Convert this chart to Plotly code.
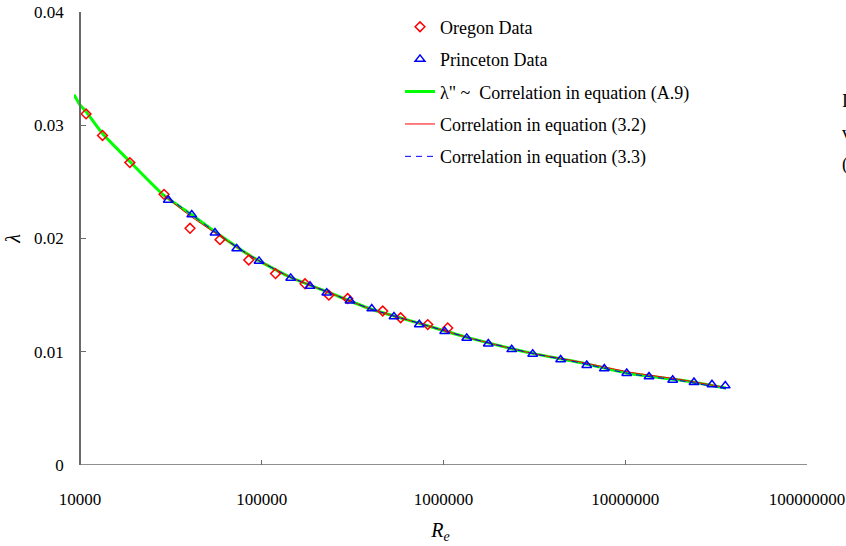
import plotly.graph_objects as go

# ---------------- data ----------------
oregon_re = [1.08e4, 1.33e4, 1.88e4, 2.9e4, 4.03e4, 5.89e4, 8.48e4, 1.19e5,
             1.73e5, 2.34e5, 2.97e5, 4.63e5, 5.81e5, 8.19e5, 1.055e6]
oregon_lam = [0.0310, 0.0291, 0.0267, 0.0239, 0.0209, 0.0199, 0.0181, 0.0169,
              0.0160, 0.0150, 0.0147, 0.0136, 0.0130, 0.0124, 0.0121]

princeton_re = [3.06e4, 4.12e4, 5.53e4, 7.28e4, 9.66e4, 1.443e5, 1.843e5, 2.278e5,
                3.06e5, 4.03e5, 5.34e5, 7.36e5, 1.015e6, 1.342e6, 1.764e6, 2.373e6,
                3.096e6, 4.41e6, 6.14e6, 7.67e6, 1.019e7, 1.351e7, 1.824e7, 2.389e7,
                3.0e7, 3.55e7]
princeton_lam = [0.0234, 0.0221, 0.0205, 0.0191, 0.0180, 0.0165, 0.0158, 0.0152,
                 0.0145, 0.0138, 0.0131, 0.0124, 0.0118, 0.0112, 0.0107, 0.0102,
                 0.0098, 0.0093, 0.0088, 0.0085, 0.0081, 0.0078, 0.0075, 0.0073,
                 0.0071, 0.0070]

a9_re = [9270, 1.0e4, 1.08e4, 1.34e4, 1.88e4, 2.9e4, 4.03e4, 5.53e4, 8.6e4, 1.43e5,
         2.37e5, 3.94e5, 7.4e5, 1.4e6, 2.99e6, 5.64e6, 1.06e7, 2.0e7, 3.58e7]
a9_lam = [0.0327, 0.0318, 0.0312, 0.0292, 0.0268, 0.0238, 0.0222, 0.0206, 0.0185,
          0.0166, 0.0152, 0.0138, 0.0125, 0.0112, 0.0099, 0.00905, 0.00808, 0.0075,
          0.0068]

eq32_re = [2.9e4, 4.03e4, 5.53e4, 8.6e4, 1.43e5, 2.37e5, 3.94e5, 7.4e5, 1.4e6,
           2.99e6, 5.64e6, 1.06e7, 2.0e7, 3.41e7]
eq32_lam = [0.0238, 0.0220, 0.0205, 0.0185, 0.0166, 0.0152, 0.0138, 0.0125, 0.0112,
            0.0099, 0.0091, 0.0082, 0.00755, 0.0069]

eq33_re = [3.06e4, 4.03e4, 5.53e4, 8.6e4, 1.43e5, 2.37e5, 3.94e5, 7.4e5, 1.4e6,
           2.99e6, 5.64e6, 1.06e7, 2.0e7, 3.58e7]
eq33_lam = [0.0236, 0.0222, 0.0206, 0.0185, 0.0166, 0.0152, 0.0138, 0.0125, 0.0112,
            0.0099, 0.00902, 0.00805, 0.00745, 0.00672]

x_tickvals = [1e4, 1e5, 1e6, 1e7, 1e8]
x_ticktext = ["10000", "100000", "1000000", "10000000", "100000000"]
y_tickvals = [0, 0.01, 0.02, 0.03, 0.04]
y_ticktext = ["0", "0.01", "0.02", "0.03", "0.04"]

side_text = ["I", "v", "("]

# ---------------- figure ----------------
FONT = "Liberation Serif"
W, H = 846, 546
ML, MR, MT, MB = 74, 39, 12, 81
PW = W - ML - MR
PH = H - MT - MB
AXC = "#6a6a6a"

fig = go.Figure()

fig.add_trace(go.Scatter(
    x=a9_re, y=a9_lam, mode="lines", name='λ" ~\u00a0 Correlation in equation (A.9)',
    line=dict(color="#00ff00", width=3, shape="spline", smoothing=0.6),
    legendrank=3, legendgroup="g3"))
fig.add_trace(go.Scatter(
    x=eq32_re, y=eq32_lam, mode="lines", name="Correlation in equation (3.2)",
    line=dict(color="#ff0000", width=1, shape="spline", smoothing=0.6),
    legendrank=4, legendgroup="g4"))
fig.add_trace(go.Scatter(
    x=eq33_re, y=eq33_lam, mode="lines", name="Correlation in equation (3.3)",
    line=dict(color="#0000ff", width=1, dash="6px,5px", shape="spline", smoothing=0.6),
    legendrank=5, legendgroup="g5"))
fig.add_trace(go.Scatter(
    x=oregon_re, y=oregon_lam, mode="markers", name="Oregon Data",
    marker=dict(symbol="diamond-open", size=7.5, color="#ff0000",
                line=dict(width=1.5, color="#ff0000")),
    legendrank=1, legendgroup="g1"))
fig.add_trace(go.Scatter(
    x=princeton_re, y=princeton_lam, mode="markers", name="Princeton Data",
    marker=dict(symbol="triangle-up-open", size=8.5, color="#0000ff",
                line=dict(width=1.5, color="#0000ff")),
    legendrank=2, legendgroup="g2"))

x0_frac = 6 / PW

fig.update_layout(
    width=W, height=H,
    margin=dict(l=ML, r=MR, t=MT, b=MB, pad=0, autoexpand=False),
    paper_bgcolor="white", plot_bgcolor="white",
    font=dict(family=FONT, size=17, color="black"),
    showlegend=True,
    legend=dict(x=(400 - ML) / PW, y=1.0076, xanchor="left", yanchor="top",
                bgcolor="rgba(0,0,0,0)", borderwidth=0,
                font=dict(family=FONT, size=18, color="black"),
                traceorder="grouped", tracegroupgap=6),
    xaxis=dict(type="log", range=[3.967, 8], showgrid=False, zeroline=False,
               automargin=False,
               showline=False, ticks="inside", ticklen=5, tickwidth=1.2,
               tickcolor=AXC, tickvals=x_tickvals, ticktext=x_ticktext,
               tickfont=dict(family=FONT, size=17), ticklabelstandoff=22,
               title=dict(text="<i>R<sub>e</sub></i>",
                          font=dict(family=FONT, size=20), standoff=14)),
    yaxis=dict(range=[0, 0.04], showgrid=False, zeroline=False,
               automargin=False,
               anchor="free", position=x0_frac,
               showline=True, linecolor=AXC, linewidth=1.5,
               ticks="inside", ticklen=5, tickwidth=1.2, tickcolor=AXC,
               tickvals=y_tickvals, ticktext=y_ticktext,
               tickfont=dict(family=FONT, size=17), ticklabelstandoff=12,
               title=dict(text="<i>λ</i>", font=dict(family=FONT, size=20),
                          standoff=7)),
    shapes=[dict(type="line", xref="paper", yref="y", x0=x0_frac, x1=1,
                 y0=0, y1=0, line=dict(color=AXC, width=1.5), layer="above")],
)

for i, t in enumerate(side_text):
    ypx = 101 + 32 * i
    fig.add_annotation(xref="paper", yref="paper", x=(840 - ML) / PW,
                       y=1 - (ypx - MT) / PH, xanchor="left", yanchor="middle",
                       text=t, showarrow=False,
                       font=dict(family=FONT, size=18, color="black"))

fig.write_html("out.html",
               config={"displayModeBar": False},
               post_script="document.body.style.margin='0';"
                           "document.body.style.overflow='hidden';")
